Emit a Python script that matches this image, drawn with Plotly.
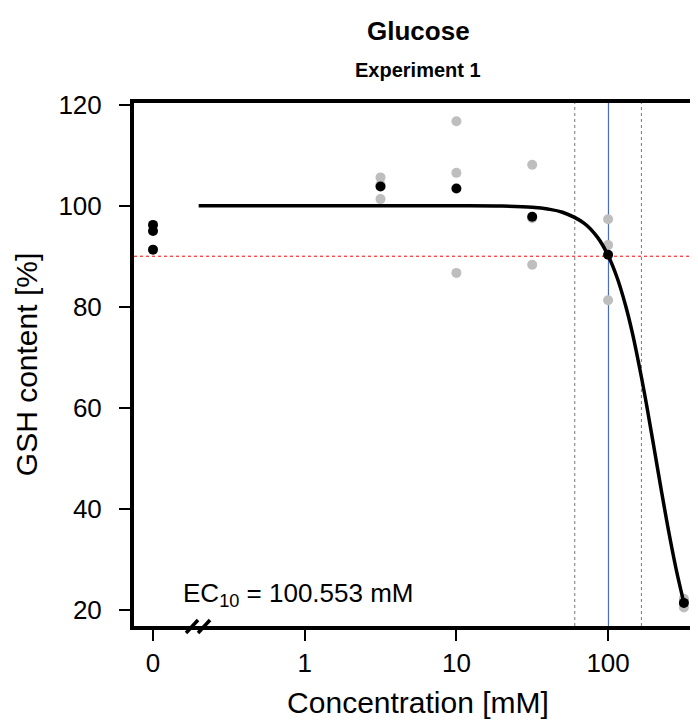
import math
import plotly.graph_objects as go

# ---- data ----
tick_vals = [0.1, 1, 10, 100]          # 0 is drawn at the axis-break position 0.1
tick_text = ["0", "1", "10", "100"]
y_ticks = [20, 40, 60, 80, 100, 120]

zero_pos = 0.1
control_values = [96.2, 95.0, 91.3]     # concentration 0 (black)

rep_conc = [3.16, 3.16, 3.16, 10, 10, 10, 31.6, 31.6, 31.6, 100, 100, 100, 316, 316, 316]
rep_values = [105.6, 104.2, 101.3, 116.7, 106.5, 86.7, 108.1, 97.5, 88.3,
              97.3, 92.2, 81.3, 22.2, 21.5, 20.5]

mean_conc = [3.16, 10, 31.6, 100, 316]
mean_values = [103.8, 103.4, 97.8, 90.3, 21.4]

curve_x = [0.2, 1, 10, 20, 31.6, 40, 50, 70, 85, 100, 115, 130, 145, 166, 180, 200, 225, 250, 280, 316]
curve_y = [100, 100, 99.99, 99.92, 99.68, 99.34, 98.7, 96.46, 93.77, 90.15, 85.65, 80.41,
           74.63, 66.0, 60.31, 52.4, 43.45, 35.77, 28.26, 21.4]

ec10 = 100.553
ec10_ci = [60.3, 165.8]
response_level = 90
break_pos = 0.198

x_range_log = [-1.1253, 2.619]
y_range = [16.83, 120.32]

FONT = "Liberation Sans, Arial, sans-serif"

fig = go.Figure()

# reference lines
fig.add_trace(go.Scatter(x=[10 ** x_range_log[0], 10 ** x_range_log[1]], y=[response_level] * 2,
                         mode="lines", line=dict(color="red", width=1, dash="dot"),
                         hoverinfo="skip", showlegend=False))
for cx in ec10_ci:
    fig.add_trace(go.Scatter(x=[cx, cx], y=y_range, mode="lines",
                             line=dict(color="#777777", width=1, dash="dot"),
                             hoverinfo="skip", showlegend=False))
fig.add_trace(go.Scatter(x=[ec10, ec10], y=y_range, mode="lines",
                         line=dict(color="#4a6cc4", width=1.2),
                         hoverinfo="skip", showlegend=False))

# replicate points (grey)
fig.add_trace(go.Scatter(x=rep_conc, y=rep_values, mode="markers",
                         marker=dict(color="#bebebe", size=10), showlegend=False))
# fitted curve
fig.add_trace(go.Scatter(x=curve_x, y=curve_y, mode="lines",
                         line=dict(color="black", width=3.5, shape="spline"),
                         showlegend=False))
# means and controls (black)
fig.add_trace(go.Scatter(x=mean_conc + [zero_pos] * len(control_values),
                         y=mean_values + control_values, mode="markers",
                         marker=dict(color="black", size=10), showlegend=False))

# axis break marks "//" (paper refs so they are not clipped by the plot area)
break_paper = (math.log10(break_pos) - x_range_log[0]) / (x_range_log[1] - x_range_log[0])
for dx in (-6, 6):
    fig.add_shape(type="line", xref="paper", yref="paper",
                  xsizemode="pixel", ysizemode="pixel",
                  xanchor=break_paper, yanchor=0,
                  x0=dx - 6, x1=dx + 6, y0=-7, y1=6,
                  line=dict(color="black", width=3.5))

fig.add_annotation(text="<b>Glucose</b>", xref="paper", yref="paper",
                   x=0.5, y=(618 - 23.4) / 523, yanchor="middle", showarrow=False,
                   font=dict(size=26, color="black", family=FONT))
fig.add_annotation(text="<b>Experiment 1</b>", xref="paper", yref="paper",
                   x=0.5, y=(618 - 61.7) / 523, yanchor="middle", showarrow=False,
                   font=dict(size=20, color="black", family=FONT))
fig.add_annotation(text="EC<sub>10</sub> = 100.553 mM", xref="paper", yref="paper",
                   x=(172.7 - 126) / 568, y=(618 - 586) / 523, xanchor="left", yanchor="middle",
                   showarrow=False, font=dict(size=26, color="black", family=FONT))

fig.update_xaxes(type="log", range=x_range_log, tickvals=tick_vals, ticktext=tick_text,
                 showline=True, linewidth=4, linecolor="black", mirror=True,
                 ticks="outside", ticklen=11, tickwidth=2, tickcolor="black",
                 showgrid=False, zeroline=False,
                 tickfont=dict(size=26, color="black", family=FONT),
                 title=dict(text="Concentration [mM]", font=dict(size=30, color="black", family=FONT),
                            standoff=16))
fig.update_yaxes(range=y_range, tickvals=y_ticks,
                 showline=True, linewidth=4, linecolor="black", mirror=True,
                 ticks="outside", ticklen=11, tickwidth=2, tickcolor="black",
                 ticklabelstandoff=12,
                 showgrid=False, zeroline=False,
                 tickfont=dict(size=26, color="black", family=FONT),
                 title=dict(text="GSH content [%]", font=dict(size=30, color="black", family=FONT),
                            standoff=13))

fig.update_layout(width=698, height=722, margin=dict(l=126, r=4, t=95, b=104, autoexpand=False),
                  plot_bgcolor="white", paper_bgcolor="white",
                  font=dict(family=FONT, color="black"), showlegend=False)

fig.write_html("out.html")
